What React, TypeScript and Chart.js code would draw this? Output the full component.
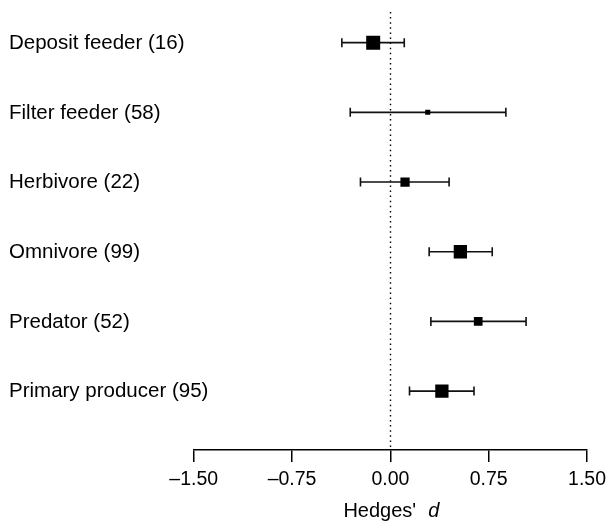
import React, { useEffect, useRef } from "react";
import { Chart, registerables } from "chart.js";

Chart.register(...registerables);

const categories = [
  "Deposit feeder (16)",
  "Filter feeder (58)",
  "Herbivore (22)",
  "Omnivore (99)",
  "Predator (52)",
  "Primary producer (95)",
];
const estimates = [-0.131, 0.285, 0.112, 0.534, 0.67, 0.393];
const lowerCI = [-0.37, -0.306, -0.228, 0.296, 0.309, 0.146];
const upperCI = [0.106, 0.881, 0.448, 0.777, 1.035, 0.638];
const weights = [1.0, 0.36, 0.66, 0.95, 0.62, 0.95];
const xTicks = [-1.5, -0.75, 0, 0.75, 1.5];

const FONT = "'Liberation Sans', Arial, Helvetica, sans-serif";
const LABEL_SIZE = 20.5;
const TICK_SIZE = 19.5;
const TITLE_SIZE = 20;
const MAX_SIDE = 14;

const forestPlugin = {
  id: "forest",
  beforeDatasetsDraw(chart: any) {
    const { ctx, chartArea, scales } = chart;
    const xs = scales.x;
    const ys = scales.y;
    ctx.save();
    const x0 = Math.round(xs.getPixelForValue(0)) + 0.5;
    ctx.strokeStyle = "#000";
    ctx.lineWidth = 1.4;
    ctx.setLineDash([1.5, 3.6]);
    ctx.beginPath();
    ctx.moveTo(x0, chartArea.top);
    ctx.lineTo(x0, chartArea.bottom);
    ctx.stroke();
    ctx.setLineDash([]);
    ctx.strokeStyle = "#111";
    ctx.lineWidth = 1.6;
    categories.forEach((_, i) => {
      const y = ys.getPixelForValue(i + 1);
      const xl = xs.getPixelForValue(lowerCI[i]);
      const xr = xs.getPixelForValue(upperCI[i]);
      ctx.beginPath();
      ctx.moveTo(xl, y);
      ctx.lineTo(xr, y);
      ctx.moveTo(xl, y - 4.5);
      ctx.lineTo(xl, y + 4.5);
      ctx.moveTo(xr, y - 4.5);
      ctx.lineTo(xr, y + 4.5);
      ctx.stroke();
    });
    ctx.restore();
  },
  afterDraw(chart: any) {
    const { ctx, scales } = chart;
    const xs = scales.x;
    const ys = scales.y;
    ctx.save();
    ctx.fillStyle = "#000";
    ctx.textAlign = "left";
    // category labels
    ctx.font = `${LABEL_SIZE}px ${FONT}`;
    ctx.textBaseline = "middle";
    categories.forEach((c, i) => {
      ctx.fillText(c, ys.left, ys.getPixelForValue(i + 1) + 0.5);
    });
    // axis title
    const normal = `${TITLE_SIZE}px ${FONT}`;
    const italic = `italic ${TITLE_SIZE}px ${FONT}`;
    const cx = (xs.left + xs.right) / 2 + 1;
    const y = 517;
    ctx.textBaseline = "alphabetic";
    const a = "Hedges'";
    const b = "d";
    const gap = 12;
    ctx.font = normal;
    const wa = ctx.measureText(a).width;
    ctx.font = italic;
    const wb = ctx.measureText(b).width;
    const start = cx - (wa + gap + wb) / 2;
    ctx.font = normal;
    ctx.fillText(a, start, y);
    ctx.font = italic;
    ctx.fillText(b, start + wa + gap, y);
    ctx.restore();
  },
};

export default function App() {
  const ref = useRef<HTMLCanvasElement | null>(null);
  useEffect(() => {
    if (!ref.current) return;
    const chart = new Chart(ref.current, {
      type: "scatter",
      data: {
        datasets: [
          {
            data: estimates.map((e, i) => ({ x: e, y: i + 1 })),
            pointStyle: "rect",
            pointRadius: weights.map((w) => (w * MAX_SIDE) / Math.SQRT2),
            backgroundColor: "#000",
            borderWidth: 0,
          },
        ],
      },
      options: {
        responsive: false,
        animation: false,
        events: [],
        layout: { padding: { left: 9, top: 12, right: 23.3, bottom: 0 } },
        plugins: {
          legend: { display: false },
          tooltip: { enabled: false },
          title: { display: false },
        },
        scales: {
          x: {
            type: "linear",
            position: "bottom",
            min: -1.5,
            max: 1.5,
            afterBuildTicks: (scale: any) => {
              scale.ticks = xTicks.map((v) => ({ value: v }));
            },
            afterFit: (scale: any) => {
              scale.height = 74;
            },
            grid: {
              display: true,
              drawOnChartArea: false,
              drawTicks: true,
              tickLength: 12,
              color: "#000",
              lineWidth: 1.5,
            },
            border: { display: true, color: "#000", width: 1.5 },
            ticks: {
              color: "#000",
              font: { family: FONT, size: TICK_SIZE },
              padding: 6,
              maxRotation: 0,
              callback: (v: any) => {
                const n = Number(v);
                const s = Math.abs(n).toFixed(2);
                return n < 0 ? "\u2013" + s : s;
              },
            },
          },
          y: {
            type: "linear",
            position: "left",
            reverse: true,
            min: 0.56,
            max: 6.845,
            afterBuildTicks: (scale: any) => {
              scale.ticks = categories.map((_, i) => ({ value: i + 1 }));
            },
            afterFit: (scale: any) => {
              scale.width = 184.7;
            },
            grid: { display: false },
            border: { display: false },
            ticks: { display: false },
          },
        },
      },
      plugins: [forestPlugin],
    } as any);
    return () => chart.destroy();
  }, []);
  return (
    <div style={{ position: "fixed", left: 0, top: 0, width: 612, height: 524, background: "#fff" }}>
      <canvas ref={ref} width={612} height={524} style={{ display: "block" }} />
    </div>
  );
}
